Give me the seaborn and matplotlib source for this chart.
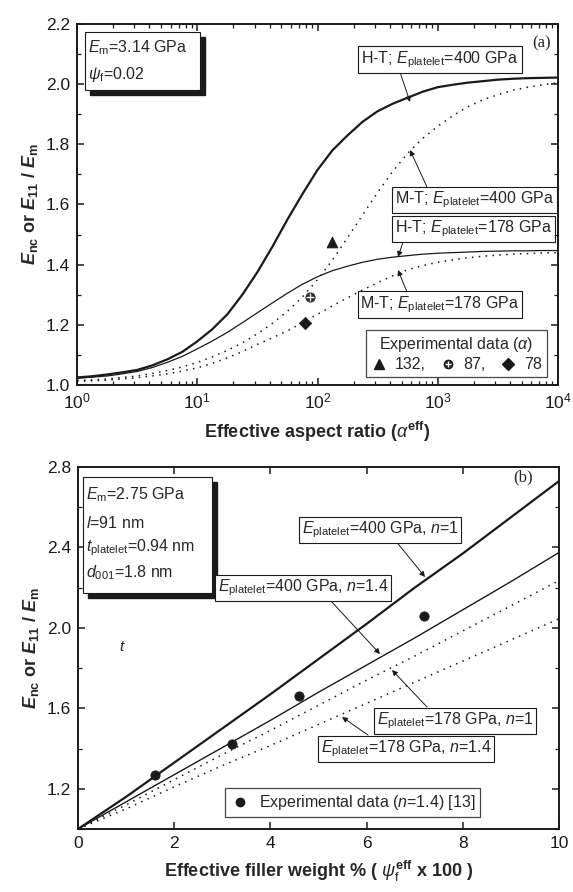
import numpy as np
import pandas as pd
import matplotlib
matplotlib.use("Agg")
import matplotlib.pyplot as plt
from matplotlib.lines import Line2D
from matplotlib.patches import Rectangle, FancyArrowPatch
from matplotlib.ticker import MultipleLocator, FormatStrFormatter, LogLocator
import seaborn as sns

# ---------------- data ----------------
aspect_ratio = [1, 1.33, 1.78, 2.37, 3.16, 4.22, 5.62, 7.50, 10, 13.3, 17.8,
                23.7, 31.6, 42.2, 56.2, 75.0, 100, 133, 178, 237, 316, 422,
                562, 750, 1000, 1334, 1778, 2371, 3162, 4217, 5623, 7499, 10000]
ht_400 = [1.025, 1.029, 1.035, 1.042, 1.05, 1.065, 1.085, 1.11, 1.145, 1.185,
          1.235, 1.30, 1.375, 1.46, 1.55, 1.635, 1.715, 1.78, 1.83, 1.875,
          1.91, 1.935, 1.955, 1.975, 1.99, 1.998, 2.005, 2.01, 2.015, 2.018,
          2.02, 2.021, 2.022]
ht_178 = [1.022, 1.026, 1.03, 1.037, 1.045, 1.058, 1.075, 1.095, 1.12, 1.146,
          1.175, 1.207, 1.24, 1.273, 1.305, 1.335, 1.36, 1.38, 1.395, 1.408,
          1.418, 1.425, 1.43, 1.435, 1.438, 1.44, 1.442, 1.444, 1.445, 1.446,
          1.446, 1.447, 1.447]
mt_400 = [1.015, 1.017, 1.02, 1.025, 1.03, 1.038, 1.048, 1.06, 1.075, 1.093,
          1.115, 1.14, 1.17, 1.205, 1.245, 1.293, 1.35, 1.415, 1.49, 1.565,
          1.64, 1.71, 1.77, 1.82, 1.86, 1.895, 1.925, 1.948, 1.965, 1.98,
          1.99, 1.998, 2.005]
mt_178 = [1.012, 1.014, 1.016, 1.02, 1.024, 1.03, 1.037, 1.046, 1.057, 1.072,
          1.09, 1.111, 1.135, 1.157, 1.18, 1.207, 1.235, 1.263, 1.29, 1.316,
          1.34, 1.363, 1.383, 1.397, 1.408, 1.416, 1.423, 1.428, 1.432, 1.435,
          1.437, 1.439, 1.44]
exp_a_alpha = [132, 87, 78]
exp_a_ratio = [1.475, 1.293, 1.206]
exp_a_labels = ["132,", "87,", "78"]

filler_pct = [0, 1, 2, 3, 4, 5, 6, 7, 8, 9, 10]
e400_n1 = [1.0, 1.16, 1.33, 1.50, 1.67, 1.845, 2.02, 2.20, 2.37, 2.55, 2.73]
e400_n14 = [1.0, 1.135, 1.27, 1.405, 1.54, 1.68, 1.815, 1.95, 2.09, 2.23, 2.375]
e178_n1 = [1.0, 1.12, 1.245, 1.37, 1.49, 1.615, 1.74, 1.86, 1.985, 2.11, 2.235]
e178_n14 = [1.0, 1.10, 1.21, 1.315, 1.415, 1.52, 1.625, 1.73, 1.835, 1.94, 2.045]
exp_b_pct = [1.6, 3.2, 4.6, 7.2]
exp_b_ratio = [1.27, 1.425, 1.66, 2.06]

# ---------------- style ----------------
sns.set_theme(style="ticks")
plt.rcParams["font.family"] = ["Liberation Sans", "DejaVu Sans"]
plt.rcParams["mathtext.fontset"] = "custom"
plt.rcParams["mathtext.rm"] = "Liberation Sans"
plt.rcParams["mathtext.it"] = "Liberation Sans:italic"
plt.rcParams["mathtext.bf"] = "Liberation Sans:bold"
plt.rcParams["mathtext.bfit"] = "Liberation Sans:bold:italic"
plt.rcParams["axes.linewidth"] = 1.4
plt.rcParams["axes.edgecolor"] = "black"

W, H = 573, 892
fig = plt.figure(figsize=(W / 100, H / 100), dpi=100)
fig.patch.set_facecolor("white")


def P(px, py):
    return (px / W, 1 - py / H)


def ax_rect(x0, y0, x1, y1):
    return [x0 / W, 1 - y1 / H, (x1 - x0) / W, (y1 - y0) / H]


axA = fig.add_axes(ax_rect(77, 24, 558, 385))
axB = fig.add_axes(ax_rect(78, 467, 559, 829))

TICK_FS = 12.5
ANN_FS = 11.5
DOT = (0, (1, 3.5))

# ---------------- panel (a) ----------------
dfa = pd.DataFrame({"alpha": aspect_ratio, "ht400": ht_400, "ht178": ht_178,
                    "mt400": mt_400, "mt178": mt_178})
sns.lineplot(data=dfa, x="alpha", y="ht400", ax=axA, color="k", lw=1.6)
sns.lineplot(data=dfa, x="alpha", y="ht178", ax=axA, color="k", lw=0.9)
sns.lineplot(data=dfa, x="alpha", y="mt400", ax=axA, color="k", lw=1.1, linestyle=DOT)
sns.lineplot(data=dfa, x="alpha", y="mt178", ax=axA, color="k", lw=1.1, linestyle=DOT)

markers_a = ["^", "o", "D"]
sizes_a = [60, 45, 40]
for xa, ya, m, s in zip(exp_a_alpha, exp_a_ratio, markers_a, sizes_a):
    sns.scatterplot(x=[xa], y=[ya], ax=axA, marker=m, s=s,
                    color="#333333" if m == "o" else "k",
                    edgecolor="k", legend=False, zorder=5)
sns.scatterplot(x=[exp_a_alpha[1]], y=[exp_a_ratio[1]], ax=axA, marker="+",
                s=30, color="white", linewidth=0.9, legend=False, zorder=6)

axA.set_xscale("log")
axA.set_xlim(1, 1e4)
axA.set_ylim(1.0, 2.2)
axA.yaxis.set_major_locator(MultipleLocator(0.2))
axA.yaxis.set_minor_locator(MultipleLocator(0.1))
axA.yaxis.set_major_formatter(FormatStrFormatter("%.1f"))
axA.xaxis.set_major_locator(LogLocator(base=10, numticks=10))
axA.xaxis.set_minor_locator(LogLocator(base=10, subs=np.arange(2, 10), numticks=20))
axA.set_xlabel(r"Effective aspect ratio ($\alpha^{\mathbf{eff}}$)",
               fontsize=13, fontweight="bold", labelpad=6)
axA.set_ylabel(r"$\mathbfit{E}_{\mathbf{nc}}$ or $\mathbfit{E}_{\mathbf{11}}$ / $\mathbfit{E}_{\mathbf{m}}$",
               fontsize=13, fontweight="bold", labelpad=4)

hA = [Line2D([], [], ls="none", marker="^", color="k", ms=7),
      (Line2D([], [], ls="none", marker="o", color="#333333", mec="k", ms=6),
       Line2D([], [], ls="none", marker="+", color="white", ms=5, mew=0.9)),
      Line2D([], [], ls="none", marker="D", color="k", ms=6)]
legA = axA.legend(hA, exp_a_labels, ncol=3, title=r"Experimental data ($\alpha$)",
                  loc="lower right", bbox_to_anchor=(0.977, 0.022),
                  fontsize=ANN_FS, title_fontsize=ANN_FS, frameon=True,
                  fancybox=False, edgecolor="k", handlelength=1.0,
                  handletextpad=0.5, columnspacing=0.9, borderpad=0.3,
                  labelspacing=0.2, borderaxespad=0)
legA.get_frame().set_linewidth(0.9)

# ---------------- panel (b) ----------------
dfb = pd.DataFrame({"pct": filler_pct, "a": e400_n1, "b": e400_n14,
                    "c": e178_n1, "d": e178_n14})
sns.lineplot(data=dfb, x="pct", y="a", ax=axB, color="k", lw=1.6)
sns.lineplot(data=dfb, x="pct", y="b", ax=axB, color="k", lw=1.0)
sns.lineplot(data=dfb, x="pct", y="c", ax=axB, color="k", lw=1.1, linestyle=DOT)
sns.lineplot(data=dfb, x="pct", y="d", ax=axB, color="k", lw=1.1, linestyle=DOT)
sns.scatterplot(x=exp_b_pct, y=exp_b_ratio, ax=axB, marker="o", s=45,
                color="k", edgecolor="k", legend=False, zorder=5)

axB.set_xlim(0, 10)
axB.set_ylim(1.0, 2.8)
axB.xaxis.set_major_locator(MultipleLocator(2))
axB.yaxis.set_major_locator(MultipleLocator(0.4))
axB.yaxis.set_minor_locator(MultipleLocator(0.2))
axB.yaxis.set_major_formatter(FormatStrFormatter("%.1f"))
axB.set_xlabel(r"Effective filler weight % ( $\psi_{\mathrm{f}}^{\mathbf{eff}}$ x 100 )",
               fontsize=13, fontweight="bold", labelpad=6)
axB.set_ylabel(r"$\mathbfit{E}_{\mathbf{nc}}$ or $\mathbfit{E}_{\mathbf{11}}$ / $\mathbfit{E}_{\mathbf{m}}$",
               fontsize=13, fontweight="bold", labelpad=4)

hB = [Line2D([], [], ls="none", marker="o", color="k", ms=6)]
legB = axB.legend(hB, [r"Experimental data ($n$=1.4) [13]"], loc="lower left",
                  bbox_to_anchor=(0.306, 0.033), fontsize=ANN_FS, frameon=True,
                  fancybox=False, edgecolor="k", handlelength=1.2,
                  handletextpad=0.6, borderpad=0.3, borderaxespad=0)
legB.get_frame().set_linewidth(0.9)

for ax in (axA, axB):
    ax.set_facecolor("white")
    ax.tick_params(which="both", direction="in", top=True, right=True,
                   colors="k", labelsize=TICK_FS)
    ax.tick_params(which="major", length=5, width=1.1, pad=5)
    ax.tick_params(which="minor", length=3, width=0.9)
    for s in ax.spines.values():
        s.set_visible(True)
        s.set_color("k")
        s.set_linewidth(1.4)
    ax.grid(False)

# ---------------- annotations ----------------
box = dict(boxstyle="square,pad=0.18", fc="white", ec="k", lw=0.8)
arrow = dict(arrowstyle="-|>", lw=0.7, color="k", mutation_scale=8,
             shrinkA=0, shrinkB=0)


def label(text, cx, cy):
    fig.text(*P(cx, cy), text, ha="center", va="center", fontsize=ANN_FS,
             bbox=box, zorder=10)


def arr(x0, y0, x1, y1):
    fig.add_artist(FancyArrowPatch(P(x0, y0), P(x1, y1),
                                   transform=fig.transFigure, **arrow))


label(r"H-T; $E_{\mathrm{platelet}}$=400 GPa", 440, 59.5)
arr(400, 72, 410, 102)
label(r"M-T; $E_{\mathrm{platelet}}$=400 GPa", 474.5, 200)
arr(427, 187, 410, 150)
label(r"H-T; $E_{\mathrm{platelet}}$=178 GPa", 473.5, 229)
arr(403, 242, 398, 257)
label(r"M-T; $E_{\mathrm{platelet}}$=178 GPa", 440, 304.5)
arr(407, 292, 398, 270)

label(r"$E_{\mathrm{platelet}}$=400 GPa, $n$=1", 380, 530)
arr(395, 540, 425, 577)
label(r"$E_{\mathrm{platelet}}$=400 GPa, $n$=1.4", 303, 588)
arr(330, 600, 380, 654)
label(r"$E_{\mathrm{platelet}}$=178 GPa, $n$=1", 455, 721)
arr(427, 707, 392, 670)
label(r"$E_{\mathrm{platelet}}$=178 GPa, $n$=1.4", 406, 749)
arr(368, 735, 342, 717)


def info_box(x0, y0, x1, y1, lines, ys):
    sh = 5
    fig.add_artist(Rectangle(P(x0 + sh, y1 + sh), (x1 - x0) / W, (y1 - y0) / H,
                             transform=fig.transFigure, fc="k", ec="k", zorder=8))
    fig.add_artist(Rectangle(P(x0, y1), (x1 - x0) / W, (y1 - y0) / H,
                             transform=fig.transFigure, fc="white", ec="k",
                             lw=0.8, zorder=9))
    for t, yy in zip(lines, ys):
        fig.text(*P(x0 + 3, yy), t, ha="left", va="center", fontsize=ANN_FS,
                 zorder=10)


info_box(85, 32, 200, 90,
         [r"$E_{\mathrm{m}}$=3.14 GPa", r"$\psi_{\mathrm{f}}$=0.02"], [48, 75])
info_box(83, 477, 212, 593,
         [r"$E_{\mathrm{m}}$=2.75 GPa", r"$l$=91 nm",
          r"$t_{\mathrm{platelet}}$=0.94 nm", r"$d_{\mathrm{001}}$=1.8 nm"],
         [495, 523, 548, 573])

fig.text(*P(542, 43), "(a)", ha="center", va="center", fontsize=12,
         family=["Liberation Serif"])
fig.text(*P(523, 477), "(b)", ha="center", va="center", fontsize=12,
         family=["Liberation Serif"])
fig.text(*P(122, 647), r"$t$", ha="center", va="center", fontsize=11)

fig.savefig("out.png", dpi=100, facecolor="white")
